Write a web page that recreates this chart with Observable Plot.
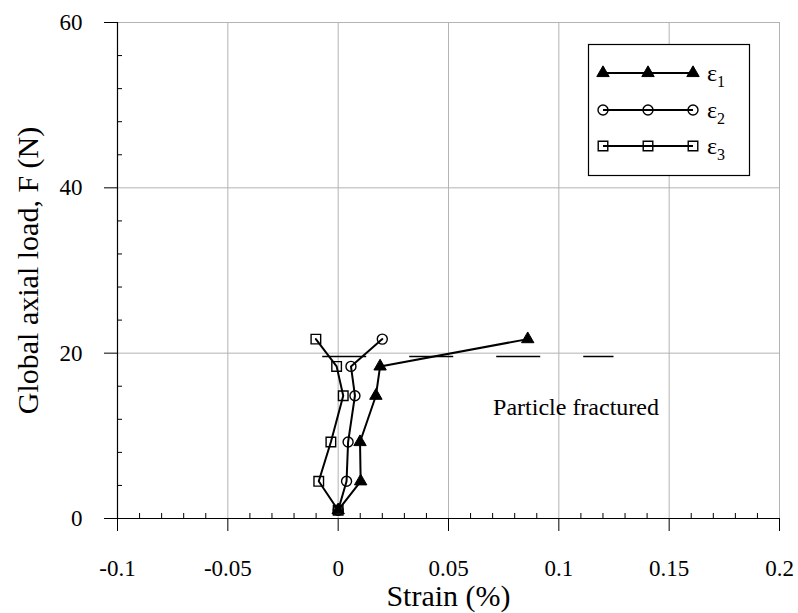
<!DOCTYPE html>
<html>
<head>
<meta charset="utf-8">
<script src="https://cdn.jsdelivr.net/npm/d3@7"></script>
<script src="https://cdn.jsdelivr.net/npm/@observablehq/plot@0.6"></script>
<style>
  html, body { margin: 0; padding: 0; background: #fff; }
  #chart { width: 798px; height: 613px; }
  #chart svg, #chart svg text { font-family: "Liberation Serif", "Times New Roman", serif !important; }
</style>
</head>
<body>
<div id="chart"></div>
<script>
// Axial load steps (N) and the three measured strain components (%)
const load    = [1.0, 4.5, 9.25, 14.85, 18.4, 21.7];
const strain1 = [0, 0.0102, 0.0099, 0.0171, 0.0190, 0.0859];
const strain2 = [0, 0.0038, 0.0045, 0.0076, 0.0058, 0.0200];
const strain3 = [0, -0.0088, -0.0033, 0.0023, -0.0007, -0.0101];

// Load level at which the particle fractured, and the strain span of that marker line
const fractureLoad = 19.6;
const fractureStrain = [-0.007, 0.125];
const fractureNote = "Particle fractured";

// Axis ticks and labels
const xTicks = [-0.1, -0.05, 0, 0.05, 0.1, 0.15, 0.2];
const xTickLabels = ["-0.1", "-0.05", "0", "0.05", "0.1", "0.15", "0.2"];
const xMinorTicks = [-0.09, -0.08, -0.07, -0.06, -0.04, -0.03, -0.02, -0.01,
  0.01, 0.02, 0.03, 0.04, 0.06, 0.07, 0.08, 0.09, 0.11, 0.12, 0.13, 0.14,
  0.16, 0.17, 0.18, 0.19];
const yTicks = [0, 20, 40, 60];
const yTickLabels = ["0", "20", "40", "60"];
const yMinorTicks = [4, 8, 12, 16, 24, 28, 32, 36, 44, 48, 52, 56];

const xLabel = "Strain (%)";
const yLabel = "Global axial load, F (N)";

// Series names (ε with subscript index) and their marker symbols
const seriesNames = ["ε", "ε", "ε"];
const seriesIndex = ["1", "2", "3"];
const seriesSymbols = ["triangle", "circle", "square"];

const toRows = (strain) => load.map((F, i) => ({strain: strain[i], load: F}));
const rows = [toRows(strain1), toRows(strain2), toRows(strain3)];

const xLabelOf = new Map(xTicks.map((t, i) => [t, xTickLabels[i]]));
const yLabelOf = new Map(yTicks.map((t, i) => [t, yTickLabels[i]]));

const gridColor = "#b4b4b4";
const font = "Liberation Serif";

// Marker styling per series
const dotStyle = [
  {r: 4.6, fill: "black", stroke: "black", strokeWidth: 1},
  {r: 5, fill: "none", stroke: "black", strokeWidth: 1.4},
  {r: 5.4, fill: "none", stroke: "black", strokeWidth: 1.4}
];

const svg = Plot.plot({
  width: 798,
  height: 613,
  marginLeft: 117,
  marginRight: 19,
  marginTop: 22,
  marginBottom: 95,
  style: {fontFamily: font, fontSize: "23px", color: "black", background: "white"},
  x: {domain: [-0.1, 0.2], label: null},
  y: {domain: [0, 60], label: null},
  marks: [
    // grid
    Plot.gridX(xTicks.filter(t => t > -0.1), {stroke: gridColor, strokeOpacity: 1, strokeWidth: 1}),
    Plot.gridY(yTicks.filter(t => t > 0), {stroke: gridColor, strokeOpacity: 1, strokeWidth: 1}),

    // axes: major ticks outward with labels, minor ticks inward
    Plot.axisX(xTicks, {tickSize: 13, tickPadding: 28, label: null, fontSize: 23, fontFamily: font,
      tickFormat: d => xLabelOf.get(d)}),
    Plot.axisX(xMinorTicks, {tickSize: 5, dy: -5, label: null, tickFormat: () => ""}),
    Plot.axisY(yTicks, {tickSize: 13, tickPadding: 22, label: null, fontSize: 23, fontFamily: font,
      tickFormat: d => yLabelOf.get(d)}),
    Plot.axisY(yMinorTicks, {tickSize: 5, dx: 5, label: null, tickFormat: () => ""}),
    Plot.ruleY([0], {stroke: "black", strokeWidth: 1.2}),
    Plot.ruleX([-0.1], {stroke: "black", strokeWidth: 1.2}),

    // fracture level
    Plot.ruleY([fractureLoad], {x1: fractureStrain[0], x2: fractureStrain[1],
      stroke: "black", strokeWidth: 1.6, strokeDasharray: "44,43"}),
    Plot.text([fractureNote], {x: 0.0702, y: 12.46, textAnchor: "start",
      lineAnchor: "bottom", fontSize: 24, fontFamily: font}),

    // series
    ...rows.map(r => Plot.line(r, {x: "strain", y: "load", stroke: "black", strokeWidth: 2})),
    ...rows.map((r, i) => Plot.dot(r, {x: "strain", y: "load", symbol: seriesSymbols[i], ...dotStyle[i]})),

    // axis titles
    Plot.text([xLabel], {frameAnchor: "bottom", dy: 87, textAnchor: "middle", lineAnchor: "bottom",
      fontSize: 30, fontFamily: font}),
    Plot.text([yLabel], {frameAnchor: "left", dx: -80, rotate: -90, textAnchor: "middle",
      lineAnchor: "bottom", fontSize: 30, fontFamily: font})
  ]
});

// Legend box in the upper right of the frame
const lg = d3.select(svg).append("g").attr("font-family", font);
lg.append("rect")
  .attr("x", 588.5).attr("y", 44.5).attr("width", 161).attr("height", 131)
  .attr("fill", "white").attr("stroke", "black").attr("stroke-width", 1.2);

const rowY = [73, 110, 146];
const lineX = [603, 693];
const symbolMap = {triangle: d3.symbolTriangle, circle: d3.symbolCircle, square: d3.symbolSquare};

seriesNames.forEach((name, i) => {
  const y = rowY[i];
  const st = dotStyle[i];
  lg.append("line")
    .attr("x1", lineX[0]).attr("x2", lineX[1]).attr("y1", y).attr("y2", y)
    .attr("stroke", "black").attr("stroke-width", 2);
  const sym = d3.symbol(symbolMap[seriesSymbols[i]], st.r * st.r * Math.PI)();
  [lineX[0], (lineX[0] + lineX[1]) / 2, lineX[1]].forEach(x => {
    lg.append("path")
      .attr("d", sym)
      .attr("transform", `translate(${x},${y})`)
      .attr("fill", st.fill).attr("stroke", st.stroke).attr("stroke-width", st.strokeWidth);
  });
  const t = lg.append("text").attr("x", 716).attr("y", y + 8).attr("font-size", 24);
  t.append("tspan").text(name);
  t.append("tspan").attr("dy", 6).attr("font-size", 16).text(seriesIndex[i]);
});

document.getElementById("chart").appendChild(svg);
</script>
</body>
</html>
